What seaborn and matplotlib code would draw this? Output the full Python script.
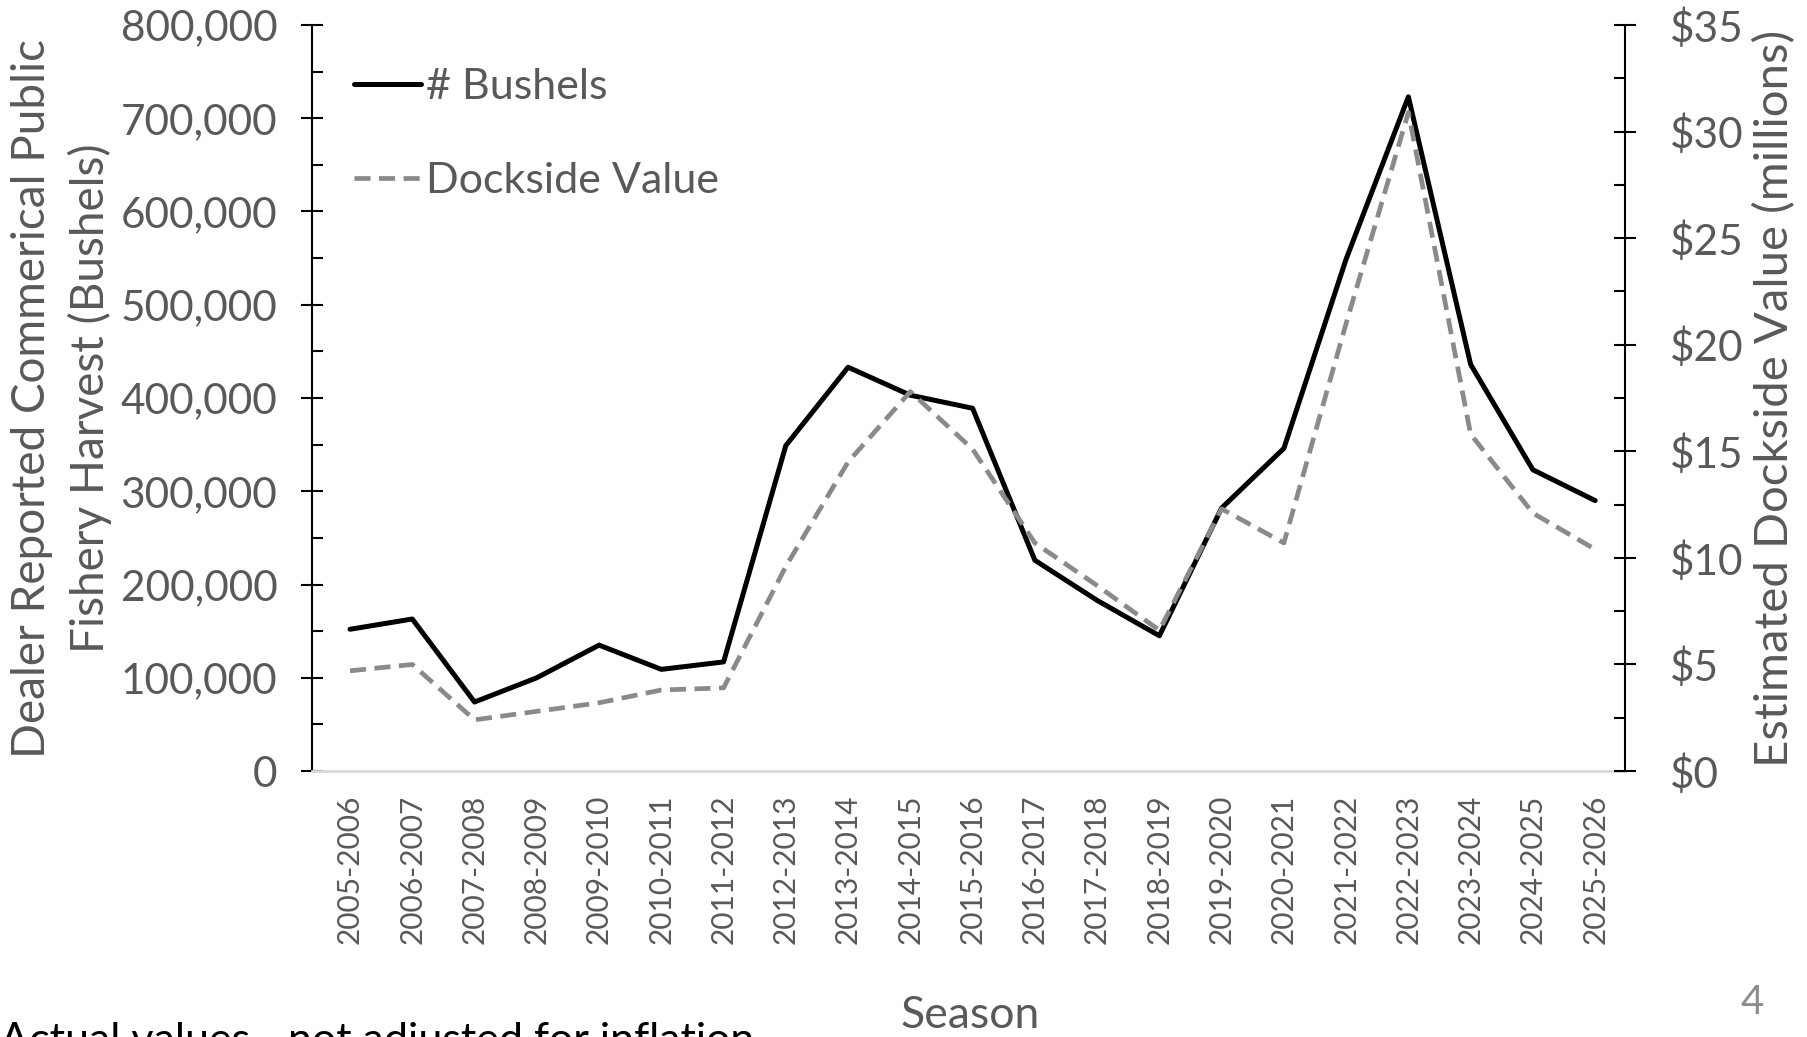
import matplotlib
matplotlib.use("Agg")
import matplotlib.pyplot as plt
import pandas as pd
import seaborn as sns
from matplotlib.ticker import FuncFormatter, MultipleLocator

seasons = [
    "2005-2006", "2006-2007", "2007-2008", "2008-2009", "2009-2010",
    "2010-2011", "2011-2012", "2012-2013", "2013-2014", "2014-2015",
    "2015-2016", "2016-2017", "2017-2018", "2018-2019", "2019-2020",
    "2020-2021", "2021-2022", "2022-2023", "2023-2024", "2024-2025",
    "2025-2026",
]
bushels = [
    152000, 163000, 74000, 100000, 135000, 109000, 117000, 349000, 433000,
    403000, 389000, 226000, 183000, 145000, 282000, 346000, 549000, 723000,
    436000, 323000, 290000,
]
dockside_millions = [
    4.7, 5.0, 2.4, 2.8, 3.2, 3.8, 3.9, 9.6, 14.5, 17.8, 15.1, 10.7, 8.7,
    6.6, 12.3, 10.7, 21.0, 30.9, 15.8, 12.1, 10.4,
]

df = pd.DataFrame(
    {"season": seasons, "bushels": bushels, "value": dockside_millions}
)
df["pos"] = range(len(df))

sns.set_style("white")
plt.rcParams["font.family"] = ["Lato", "DejaVu Sans"]

gray_text = "#595959"

fig = plt.figure(figsize=(18.07, 10.37), dpi=100)
ax = fig.add_axes([0.1727, 0.2565, 0.7266, 0.7194])
ax2 = ax.twinx()

sns.lineplot(data=df, x="pos", y="bushels", ax=ax, color="black",
             linewidth=3.6, label="# Bushels", legend=False)
sns.lineplot(data=df, x="pos", y="value", ax=ax2, color="#8a8a8a",
             linewidth=3.4, linestyle=(0, (3.4, 1.8)),
             label="Dockside Value", legend=False)

ax.set_xlim(-0.61, 20.48)
ax.set_ylim(0, 800000)
ax2.set_ylim(0, 35)

ax.set_xticks(df["pos"])
ax.set_xticklabels(seasons, rotation=90, fontsize=21.5, color=gray_text)
ax.tick_params(axis="x", length=0, pad=17)
ax.set_xlabel("")
ax.set_ylabel("")
ax2.set_ylabel("")

# left axis
ax.yaxis.set_major_locator(MultipleLocator(100000))
ax.yaxis.set_minor_locator(MultipleLocator(50000))
ax.yaxis.set_major_formatter(FuncFormatter(lambda v, p: f"{int(v):,}"))
ax.tick_params(axis="y", which="major", direction="inout", length=16,
               width=1.5, color="black", labelsize=30.5, labelcolor=gray_text,
               pad=17, left=True)
ax.tick_params(axis="y", which="minor", direction="in", length=8,
               width=1.5, color="black", left=True)

# right axis
ax2.yaxis.set_major_locator(MultipleLocator(5))
ax2.yaxis.set_minor_locator(MultipleLocator(2.5))
ax2.yaxis.set_major_formatter(FuncFormatter(lambda v, p: f"${int(v)}"))
ax2.tick_params(axis="y", which="major", direction="inout", length=16,
                width=1.5, color="black", labelsize=30.5, labelcolor=gray_text,
                pad=24, right=True)
ax2.tick_params(axis="y", which="minor", direction="in", length=8,
                width=1.5, color="black", right=True)

for a in (ax, ax2):
    a.spines["top"].set_visible(False)
    a.grid(False)
ax.spines["right"].set_visible(False)
ax2.spines["left"].set_visible(False)
ax2.spines["bottom"].set_visible(False)
ax.spines["left"].set_color("black")
ax.spines["left"].set_linewidth(1.5)
ax2.spines["right"].set_color("black")
ax2.spines["right"].set_linewidth(1.5)
ax.spines["bottom"].set_color("#d9d9d9")
ax.spines["bottom"].set_linewidth(2)

h1, l1 = ax.get_legend_handles_labels()
h2, l2 = ax2.get_legend_handles_labels()
ax2.legend(h1 + h2, l1 + l2, loc="upper left", bbox_to_anchor=(0.032, 0.942),
           frameon=False, fontsize=31, handlelength=1.55, handletextpad=0.12,
           labelspacing=1.3, borderpad=0, borderaxespad=0,
           labelcolor=gray_text)

fig.text(0.034, 0.616, "Dealer Reported Commerical Public\nFishery Harvest (Bushels)",
         rotation=90, ha="center", va="center", multialignment="center",
         fontsize=33, color=gray_text, linespacing=1.42)
fig.text(0.982, 0.616, "Estimated Dockside Value (millions)", rotation=90,
         ha="center", va="center", fontsize=34, color=gray_text)
fig.text(0.537, 0.021, "Season", ha="center", va="center", fontsize=32,
         color=gray_text)
fig.text(0.0, -0.015, "Actual values - not adjusted for inflation", ha="left",
         va="baseline", fontsize=31, color="black")
fig.text(0.9696, 0.033, "4", ha="center", va="center", fontsize=29,
         color="#8c8c8c")

fig.savefig("out.png", dpi=100)
